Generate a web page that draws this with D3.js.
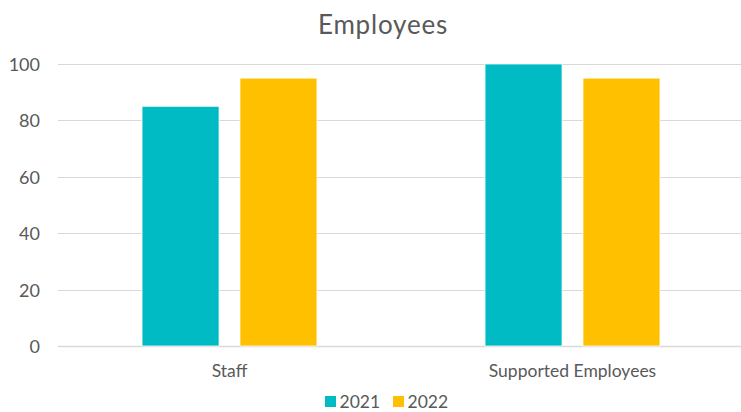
<!DOCTYPE html>
<html>
<head>
<meta charset="utf-8">
<script src="https://cdn.jsdelivr.net/npm/d3@7"></script>
<style>
  html, body { margin: 0; padding: 0; background: #fff; }
  svg { display: block; font-family: Lato, "Open Sans", sans-serif; }
</style>
</head>
<body>
<svg id="chart" width="741" height="412"></svg>
<script>
// Chart data
const categories = ["Staff", "Supported Employees"];
const seriesNames = ["2021", "2022"];
const values2021 = [85, 100];
const values2022 = [95, 95];
const yTicks = [0, 20, 40, 60, 80, 100];
const colors = ["#00bac4", "#ffc000"];

const seriesValues = [values2021, values2022];
const rows = categories.map((c, i) => ({
  category: c,
  values: seriesNames.map((s, j) => ({ series: s, value: seriesValues[j][i], color: colors[j] }))
}));

const width = 741, height = 412;
const margin = { top: 64, right: -3, bottom: 66, left: 58 };
const svg = d3.select("#chart");
const textColor = "#595959";

const x0 = d3.scaleBand()
  .domain(categories)
  .range([margin.left, width - margin.right])
  .paddingInner(0.49)
  .paddingOuter(0.245);

const x1 = d3.scaleBand()
  .domain(seriesNames)
  .range([0, x0.bandwidth()])
  .paddingInner(0.214);

const y = d3.scaleLinear()
  .domain([0, 100])
  .range([height - margin.bottom, margin.top]);

// Title
svg.append("text")
  .attr("x", 383)
  .attr("y", 34)
  .attr("text-anchor", "middle")
  .attr("fill", textColor)
  .attr("font-size", 26)
  .attr("letter-spacing", 0.8)
  .text("Employees");

// Gridlines
svg.append("g")
  .selectAll("line")
  .data(yTicks)
  .join("line")
  .attr("x1", margin.left)
  .attr("x2", width)
  .attr("y1", d => Math.round(y(d)) + 0.5)
  .attr("y2", d => Math.round(y(d)) + 0.5)
  .attr("stroke", "#d9d9d9")
  .attr("stroke-width", d => d === 0 ? 1.5 : 1);

// Y axis labels
const yAxis = d3.axisLeft(y).tickValues(yTicks).tickSize(0).tickPadding(0);
const gy = svg.append("g")
  .attr("transform", `translate(${40},0)`)
  .call(yAxis);
gy.select(".domain").remove();
gy.selectAll("text")
  .attr("fill", textColor)
  .attr("font-size", 18)
  .attr("font-family", "Lato, 'Open Sans', sans-serif")
  .attr("dy", "0.36em");

// Bars
svg.append("g")
  .selectAll("g")
  .data(rows)
  .join("g")
  .attr("transform", d => `translate(${x0(d.category)},0)`)
  .selectAll("rect")
  .data(d => d.values)
  .join("rect")
  .attr("x", d => x1(d.series))
  .attr("y", d => y(d.value))
  .attr("width", x1.bandwidth())
  .attr("height", d => y(0) - y(d.value))
  .attr("fill", d => d.color)
  .attr("stroke", "#ffffff")
  .attr("stroke-width", 0.75);

// Category labels
const xAxis = d3.axisBottom(x0).tickSize(0).tickPadding(0);
const gx = svg.append("g")
  .attr("transform", `translate(0,${y(0) + 31})`)
  .call(xAxis);
gx.select(".domain").remove();
gx.selectAll("text")
  .attr("fill", textColor)
  .attr("font-size", 17.5)
  .attr("font-family", "Lato, 'Open Sans', sans-serif")
  .attr("dy", 0);

// Legend
const legend = svg.append("g").attr("transform", "translate(325,396)");
const legendX = [0, 68];
const items = legend.selectAll("g")
  .data(seriesNames)
  .join("g")
  .attr("transform", (d, i) => `translate(${legendX[i]},0)`);
items.append("rect")
  .attr("width", 11)
  .attr("height", 11)
  .attr("fill", (d, i) => colors[i]);
items.append("text")
  .attr("x", 14.5)
  .attr("y", 12)
  .attr("fill", textColor)
  .attr("font-size", 17.5)
  .text(d => d);
</script>
</body>
</html>
